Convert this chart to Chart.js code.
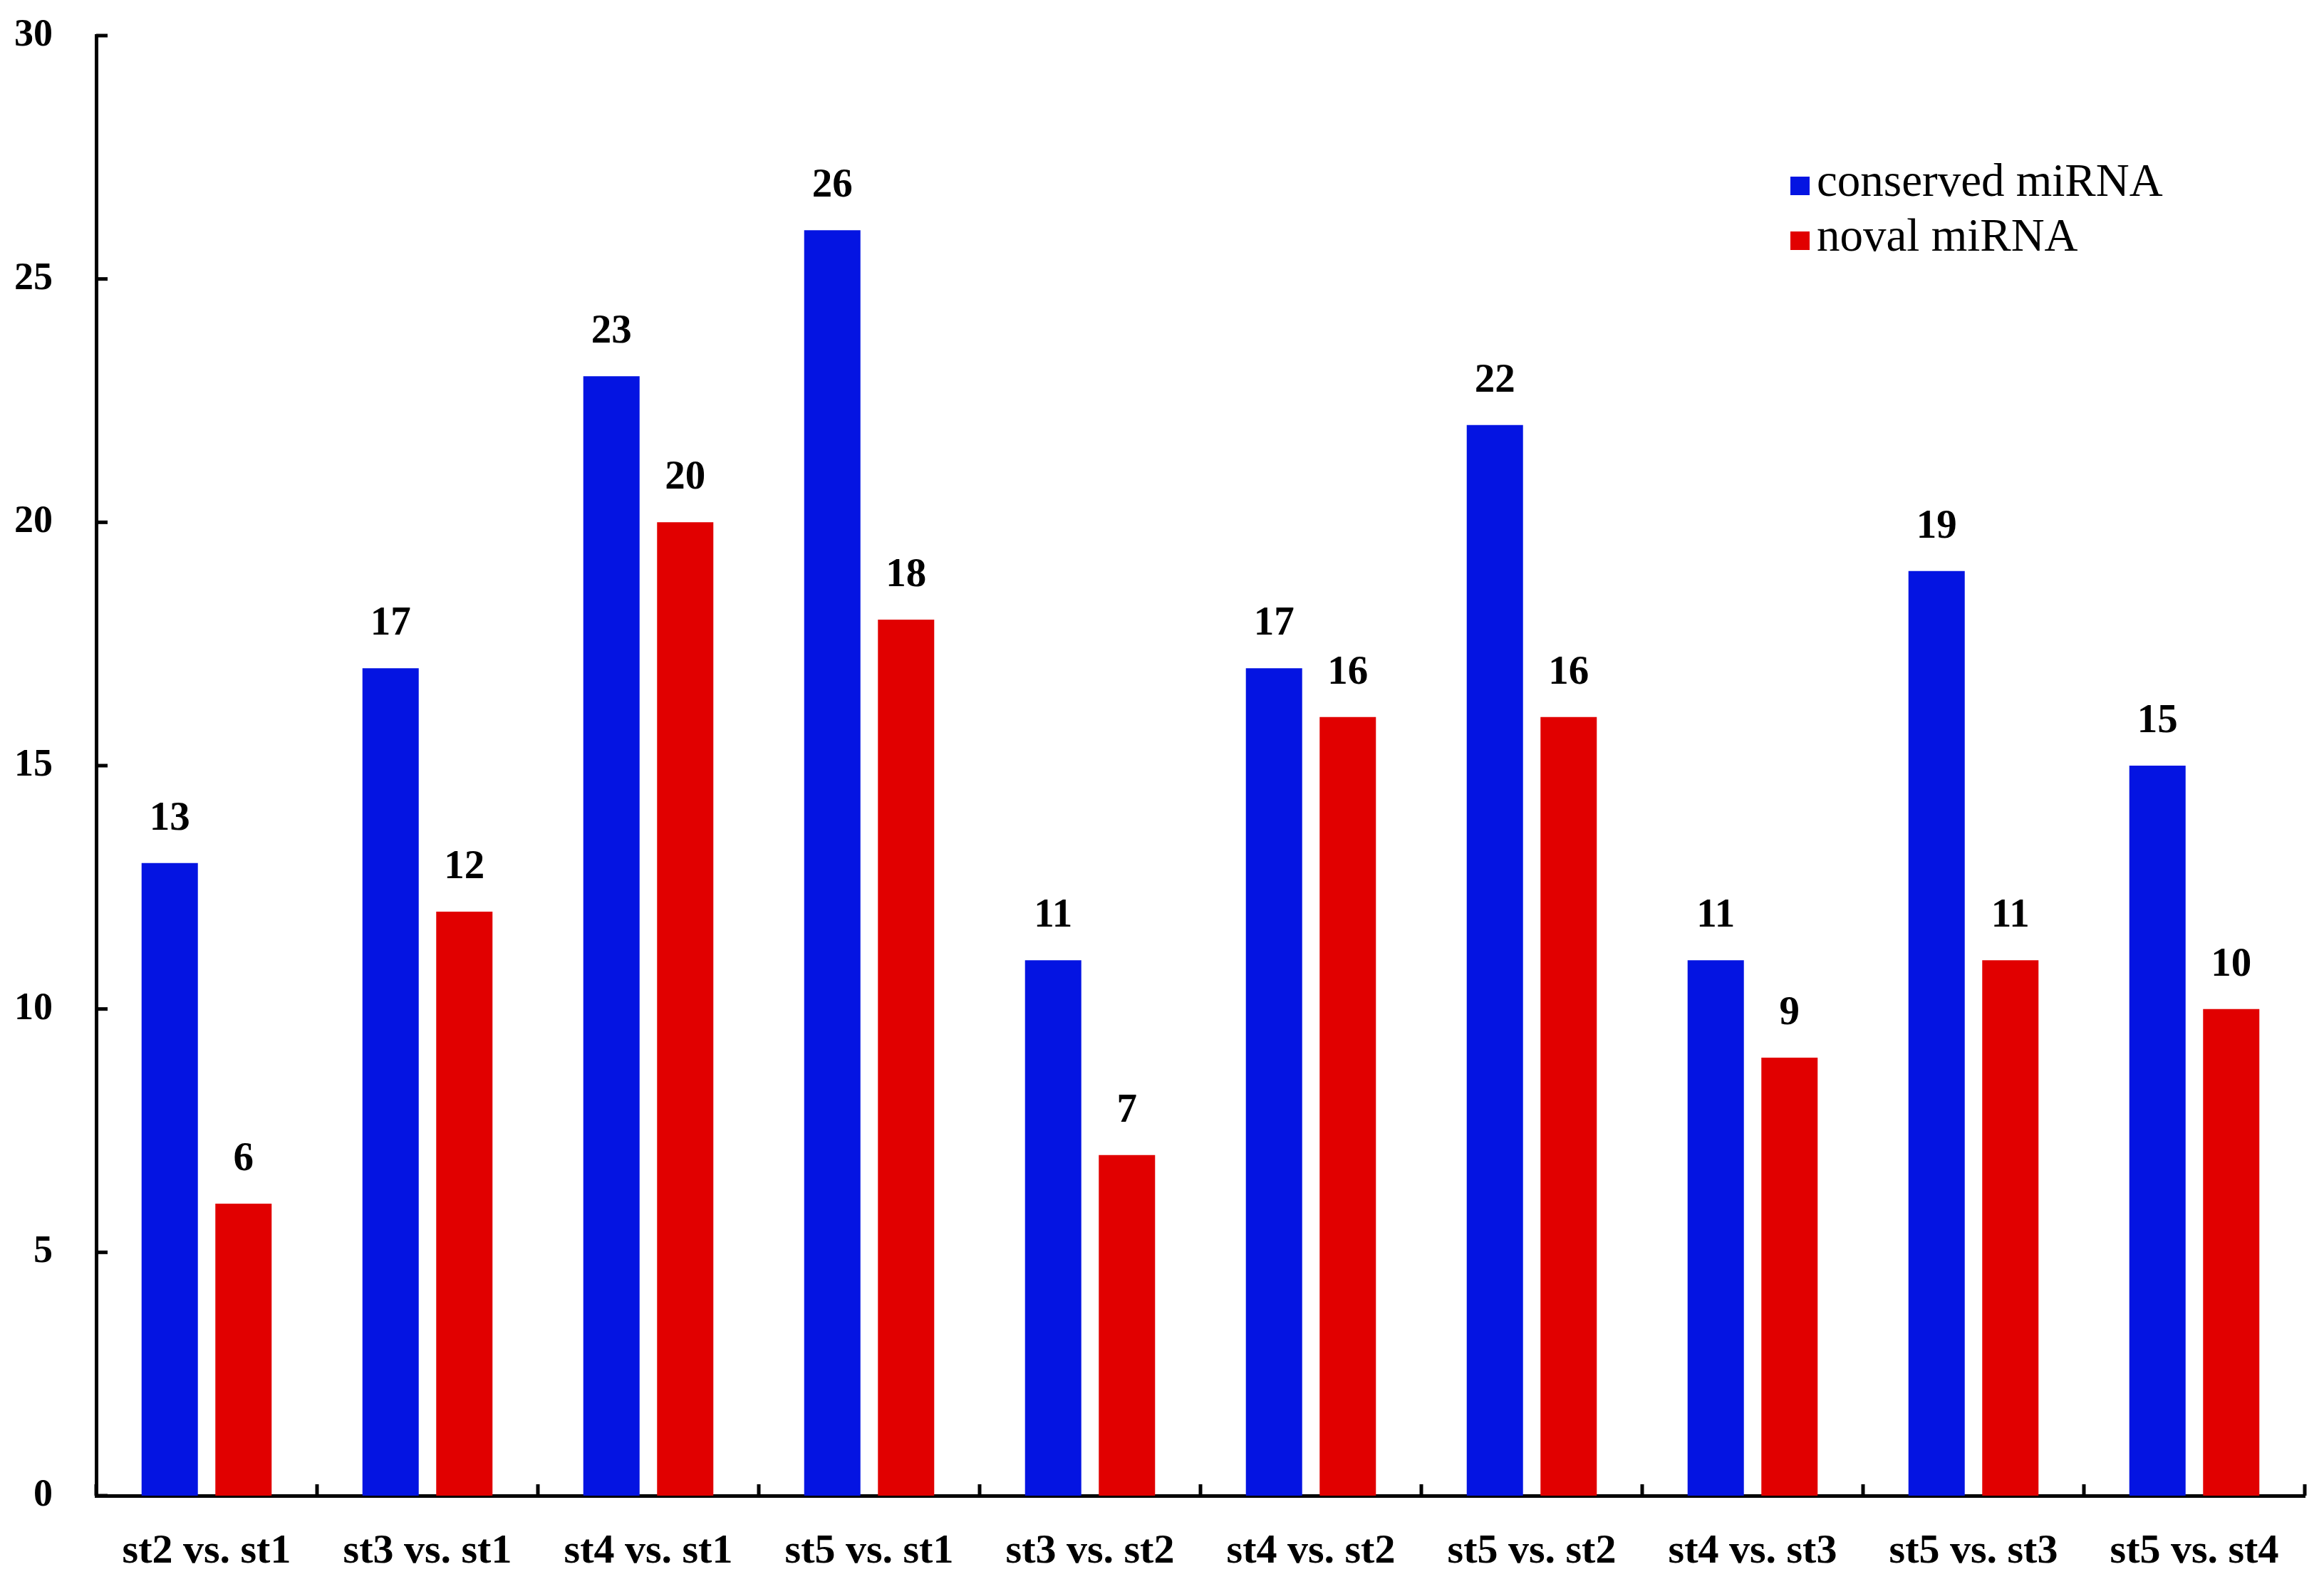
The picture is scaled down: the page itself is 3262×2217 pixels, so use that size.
<!DOCTYPE html>
<html>
<head>
<meta charset="utf-8">
<script src="https://cdn.jsdelivr.net/npm/chart.js@4/dist/chart.umd.min.js"></script>
<style>
  html, body { margin: 0; padding: 0; background: #ffffff; }
  #wrap { width: 3262px; height: 2217px; }
</style>
</head>
<body>
<div id="wrap"><canvas id="c" width="3262" height="2217"></canvas></div>
<script>
const categories = ["st2 vs. st1", "st3 vs. st1", "st4 vs. st1", "st5 vs. st1", "st3 vs. st2",
                    "st4 vs. st2", "st5 vs. st2", "st4 vs. st3", "st5 vs. st3", "st5 vs. st4"];
const conservedValues = [13, 17, 23, 26, 11, 17, 22, 11, 19, 15];
const novalValues = [6, 12, 20, 18, 7, 16, 16, 9, 11, 10];
const seriesNames = ["conserved miRNA", "noval miRNA"];
const yTickValues = [0, 5, 10, 15, 20, 25, 30];

const BLUE = "#0414E2";
const RED = "#E10000";
const SERIF = "'Liberation Serif', 'Times New Roman', serif";

const valueLabels = {
  id: "valueLabels",
  afterDatasetsDraw(chart) {
    const ctx = chart.ctx;
    ctx.save();
    ctx.fillStyle = "#000";
    ctx.font = "bold 57px " + SERIF;
    ctx.textAlign = "center";
    ctx.textBaseline = "alphabetic";
    chart.data.datasets.forEach((ds, di) => {
      const meta = chart.getDatasetMeta(di);
      meta.data.forEach((el, i) => {
        ctx.fillText(String(ds.data[i]), el.x, el.y - 47);
      });
    });
    ctx.restore();
  }
};

const innerTicks = {
  id: "innerTicks",
  afterDraw(chart) {
    const ctx = chart.ctx;
    const xs = chart.scales.x, ys = chart.scales.y;
    const len = 16;
    ctx.save();
    ctx.strokeStyle = "#000";
    ctx.lineWidth = 5;
    ctx.lineCap = "butt";
    const axisX = ys.right;
    ys.ticks.forEach((t, i) => {
      const y = ys.getPixelForTick(i);
      ctx.beginPath(); ctx.moveTo(axisX, y); ctx.lineTo(axisX + len, y); ctx.stroke();
    });
    const n = categories.length;
    const step = xs.getPixelForValue(1) - xs.getPixelForValue(0);
    const axisY = xs.top;
    for (let i = 0; i <= n; i++) {
      const x = xs.getPixelForValue(0) - step / 2 + i * step;
      ctx.beginPath(); ctx.moveTo(x, axisY); ctx.lineTo(x, axisY - len); ctx.stroke();
    }
    ctx.restore();
  }
};

const cornerLegend = {
  id: "cornerLegend",
  afterDraw(chart) {
    const ctx = chart.ctx;
    ctx.save();
    ctx.font = "65px " + SERIF;
    ctx.textAlign = "left";
    ctx.textBaseline = "alphabetic";
    const baselines = [275, 352];
    chart.data.datasets.forEach((ds, i) => {
      const b = baselines[i];
      ctx.fillStyle = ds.backgroundColor;
      ctx.fillRect(2513, b - 27, 27, 26);
      ctx.fillStyle = "#000";
      ctx.fillText(ds.label, 2550, b);
    });
    ctx.restore();
  }
};

new Chart(document.getElementById("c"), {
  type: "bar",
  data: {
    labels: categories,
    datasets: [
      { label: seriesNames[0], data: conservedValues, backgroundColor: BLUE, borderWidth: 0 },
      { label: seriesNames[1], data: novalValues, backgroundColor: RED, borderWidth: 0 }
    ]
  },
  options: {
    responsive: false,
    animation: false,
    devicePixelRatio: 1,
    layout: { padding: { top: 50, right: 27, left: 0, bottom: 0 } },
    datasets: { bar: { categoryPercentage: 0.668, barPercentage: 0.763 } },
    plugins: { legend: { display: false }, tooltip: { enabled: false } },
    scales: {
      x: {
        grid: { display: false, offset: true },
        border: { display: true, color: "#000", width: 5 },
        ticks: { color: "#000", font: { family: SERIF, size: 58, weight: "bold" }, padding: 36, maxRotation: 0, autoSkip: false },
        afterFit(scale) { scale.height = 117; scale.paddingLeft = 0; scale.paddingRight = 0; }
      },
      y: {
        min: 0, max: 30,
        afterBuildTicks(scale) { scale.ticks = yTickValues.map(v => ({ value: v })); },
        grid: { display: false },
        border: { display: true, color: "#000", width: 5 },
        ticks: { color: "#000", font: { family: SERIF, size: 54, weight: "bold" }, padding: 53 },
        afterFit(scale) { scale.width = 135; scale.paddingTop = 0; scale.paddingBottom = 0; }
      }
    }
  },
  plugins: [valueLabels, innerTicks, cornerLegend]
});
</script>
</body>
</html>
